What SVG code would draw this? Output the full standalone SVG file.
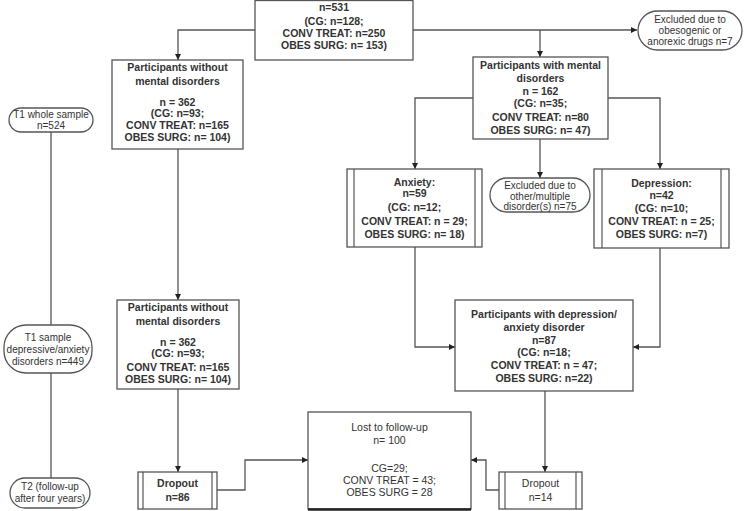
<svg xmlns="http://www.w3.org/2000/svg" width="744" height="511" viewBox="0 0 744 511">
<style>
.box{fill:#fff;stroke:#555;stroke-width:1.3}
.in{stroke:#555;stroke-width:1.2}
.c{fill:none;stroke:#555;stroke-width:1.3}
.b{font-family:"Liberation Sans",Arial,sans-serif;font-size:10.5px;font-weight:bold;fill:#333;text-anchor:middle}
.n{font-family:"Liberation Sans",Arial,sans-serif;font-size:10.5px;fill:#333;text-anchor:middle}
.s{font-family:"Liberation Sans",Arial,sans-serif;font-size:10px;fill:#333;text-anchor:middle}
</style>
<defs>
<marker id="a" markerWidth="6" markerHeight="6" refX="6" refY="3" orient="auto" markerUnits="userSpaceOnUse">
<path d="M0,0 L6,3 L0,6 z" fill="#222"/>
</marker>
</defs>
<rect width="744" height="511" fill="#fff"/>

<g id="connectors">
<path class="c" d="M255,30 H178 V60" marker-end="url(#a)"/>
<path class="c" d="M413,30 H637" marker-end="url(#a)"/>
<path class="c" d="M540,30 V57" marker-end="url(#a)"/>
<path class="c" d="M473,98 H415 V169" marker-end="url(#a)"/>
<path class="c" d="M608,98 H660 V169" marker-end="url(#a)"/>
<path class="c" d="M540,139 V178" marker-end="url(#a)"/>
<path class="c" d="M178,149 V300" marker-end="url(#a)"/>
<path class="c" d="M415,247 V347 H455" marker-end="url(#a)"/>
<path class="c" d="M660,248 V347 H633" marker-end="url(#a)"/>
<path class="c" d="M178,389 V472" marker-end="url(#a)"/>
<path class="c" d="M545,391 V472" marker-end="url(#a)"/>
<path class="c" d="M217,490 H245 V460 H308" marker-end="url(#a)"/>
<path class="c" d="M499,490 H486 V460 H471" marker-end="url(#a)"/>
<path class="c" d="M51,132 V325 M51,373 V478"/>
</g>

<g id="top">
<rect class="box" x="255" y="0.5" width="158" height="59.5"/>
<text class="b" x="334" y="11">n=531</text>
<text class="b" x="334" y="25">(CG: n=128;</text>
<text class="b" x="334" y="37">CONV TREAT: n=250</text>
<text class="b" x="334" y="48.5">OBES SURG: n= 153)</text>
</g>

<g id="excl1">
<rect class="box" x="638" y="11" width="104" height="39" rx="19.5"/>
<text class="s" x="690" y="23">Excluded due to</text>
<text class="s" x="690" y="34">obesogenic or</text>
<text class="s" x="690" y="45">anorexic drugs n=7</text>
</g>

<g id="nomental1">
<rect class="box" x="112" y="60" width="131" height="89"/>
<text class="b" x="177.5" y="71">Participants without</text>
<text class="b" x="177.5" y="85">mental disorders</text>
<text class="b" x="177.5" y="106">n = 362</text>
<text class="b" x="177.5" y="117">(CG: n=93;</text>
<text class="b" x="177.5" y="129">CONV TREAT: n=165</text>
<text class="b" x="177.5" y="141">OBES SURG: n= 104)</text>
</g>

<g id="mental">
<rect class="box" x="473" y="57" width="135" height="82"/>
<text class="b" x="540.5" y="69">Participants with mental</text>
<text class="b" x="540.5" y="82">disorders</text>
<text class="b" x="540.5" y="95">n = 162</text>
<text class="b" x="540.5" y="107">(CG: n=35;</text>
<text class="b" x="540.5" y="121">CONV TREAT: n=80</text>
<text class="b" x="540.5" y="134">OBES SURG: n= 47)</text>
</g>

<g id="t1whole">
<rect class="box" x="9" y="108" width="84" height="24" rx="12"/>
<text class="s" x="51" y="118">T1 whole sample</text>
<text class="s" x="51" y="129">n=524</text>
</g>

<g id="anxiety">
<rect class="box" x="347" y="169" width="135" height="78"/>
<line class="in" x1="354" y1="169" x2="354" y2="247"/>
<line class="in" x1="475" y1="169" x2="475" y2="247"/>
<text class="b" x="414.5" y="186">Anxiety:</text>
<text class="b" x="414.5" y="197">n=59</text>
<text class="b" x="414.5" y="211">(CG: n=12;</text>
<text class="b" x="414.5" y="225">CONV TREAT: n = 29;</text>
<text class="b" x="414.5" y="238">OBES SURG: n= 18)</text>
</g>

<g id="excl2">
<rect class="box" x="490" y="178" width="100" height="34" rx="17"/>
<text class="s" x="540" y="189">Excluded due to</text>
<text class="s" x="540" y="199.5">other/multiple</text>
<text class="s" x="540" y="210">disorder(s) n=75</text>
</g>

<g id="depression">
<rect class="box" x="594" y="169" width="135" height="79"/>
<line class="in" x1="602" y1="169" x2="602" y2="248"/>
<line class="in" x1="721" y1="169" x2="721" y2="248"/>
<text class="b" x="661.5" y="187">Depression:</text>
<text class="b" x="661.5" y="199">n=42</text>
<text class="b" x="661.5" y="212">(CG: n=10;</text>
<text class="b" x="661.5" y="225">CONV TREAT: n = 25;</text>
<text class="b" x="661.5" y="238">OBES SURG: n=7)</text>
</g>

<g id="t1dep">
<rect class="box" x="4" y="325" width="88" height="48" rx="22"/>
<text class="s" x="48" y="341">T1 sample</text>
<text class="s" x="48" y="353">depressive/anxiety</text>
<text class="s" x="48" y="365">disorders n=449</text>
</g>

<g id="nomental2">
<rect class="box" x="117" y="300" width="122" height="89"/>
<text class="b" x="178" y="311">Participants without</text>
<text class="b" x="178" y="325">mental disorders</text>
<text class="b" x="178" y="346">n = 362</text>
<text class="b" x="178" y="357">(CG: n=93;</text>
<text class="b" x="178" y="371">CONV TREAT: n=165</text>
<text class="b" x="178" y="383">OBES SURG: n= 104)</text>
</g>

<g id="depanx">
<rect class="box" x="455" y="300" width="178" height="91"/>
<text class="b" x="544" y="318">Participants with depression/</text>
<text class="b" x="544" y="331">anxiety disorder</text>
<text class="b" x="544" y="344">n=87</text>
<text class="b" x="544" y="356">(CG: n=18;</text>
<text class="b" x="544" y="369">CONV TREAT: n = 47;</text>
<text class="b" x="544" y="382">OBES SURG: n=22)</text>
</g>

<g id="t2">
<rect class="box" x="10" y="478" width="80" height="30" rx="15"/>
<text class="s" x="50" y="490">T2 (follow-up</text>
<text class="s" x="50" y="502">after four years)</text>
</g>

<g id="dropout1">
<rect class="box" x="138" y="472" width="79" height="37"/>
<line class="in" x1="143" y1="472" x2="143" y2="509"/>
<line class="in" x1="212" y1="472" x2="212" y2="509"/>
<text class="b" x="177.5" y="487">Dropout</text>
<text class="b" x="177.5" y="501">n=86</text>
</g>

<g id="lost">
<rect class="box" x="308" y="412" width="163" height="97"/>
<line x1="308" y1="509.5" x2="471" y2="509.5" stroke="#222" stroke-width="2.5"/>
<text class="n" x="389.5" y="431">Lost to follow-up</text>
<text class="n" x="389.5" y="444">n= 100</text>
<text class="n" x="389.5" y="472">CG=29;</text>
<text class="n" x="389.5" y="484">CONV TREAT = 43;</text>
<text class="n" x="389.5" y="496">OBES SURG = 28</text>
</g>

<g id="dropout2">
<rect class="box" x="499" y="472" width="83" height="37"/>
<line class="in" x1="505" y1="472" x2="505" y2="509"/>
<line class="in" x1="576" y1="472" x2="576" y2="509"/>
<text class="n" x="540.5" y="487">Dropout</text>
<text class="n" x="540.5" y="501">n=14</text>
</g>
</svg>
